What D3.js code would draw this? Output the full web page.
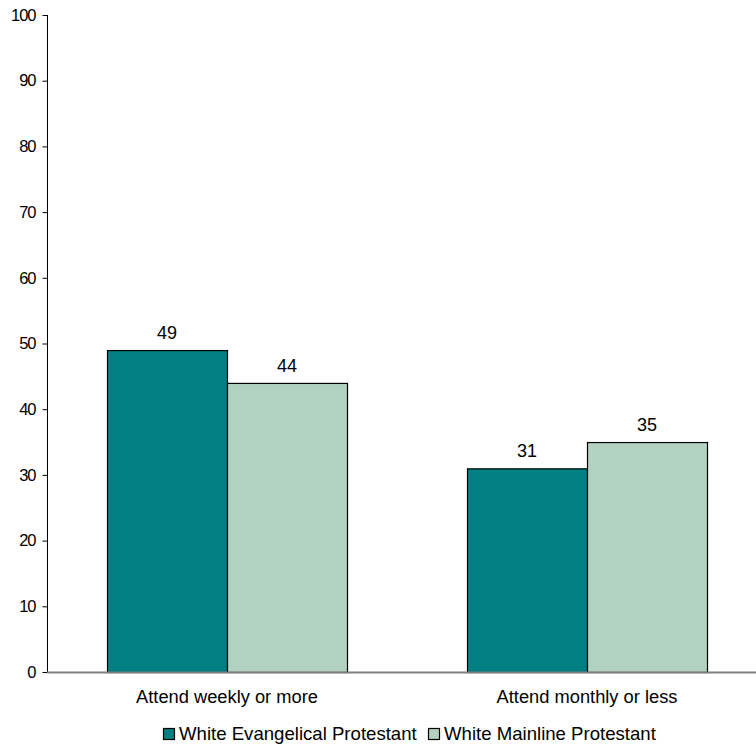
<!DOCTYPE html>
<html><head><meta charset="utf-8">
<script src="https://cdn.jsdelivr.net/npm/d3@7"></script>
<style>body{margin:0;background:#fff;} text{font-family:"Liberation Sans",Arial,sans-serif;fill:#000;}</style>
</head><body>
<svg id="c" width="756" height="746"></svg>
<script>
const categories = ["Attend weekly or more", "Attend monthly or less"];
const seriesNames = ["White Evangelical Protestant", "White Mainline Protestant"];
const evangelical = [49, 31];
const mainline = [44, 35];
const yTicks = [0,10,20,30,40,50,60,70,80,90,100];
const colors = ["#008080", "#b3d1c0"];

const svg = d3.select("#c");
const x0 = 47, x1 = 767, yTop = 15, yBot = 672;
const x = d3.scaleBand().domain(categories).range([x0, x1]).paddingInner(1/3).paddingOuter(1/6);
const xs = d3.scaleBand().domain(seriesNames).range([0, x.bandwidth()]);
const y = d3.scaleLinear().domain([0, 100]).range([yBot, yTop]);

const data = categories.map((c, i) => ({cat: c, vals: [evangelical[i], mainline[i]]}));

const g = svg.append("g");
data.forEach(d => {
  d.vals.forEach((v, j) => {
    const bx = x(d.cat) + xs(seriesNames[j]);
    g.append("rect").attr("x", bx + 0.5).attr("y", y(v) + 0.5)
      .attr("width", xs.bandwidth()).attr("height", y(0) - y(v))
      .attr("fill", colors[j]).attr("stroke", "#000").attr("stroke-width", 1.2);
    g.append("text").attr("x", bx + xs.bandwidth()/2).attr("y", y(v) - 11)
      .attr("text-anchor", "middle").attr("font-size", 18).text(v);
  });
});

// y axis
const yAxis = d3.axisLeft(y).tickValues(yTicks).tickSize(5).tickPadding(7);
const ya = svg.append("g").attr("transform", `translate(${x0 + 0.5},0)`).call(yAxis);
ya.select(".domain").attr("stroke", "#000").attr("d", `M0,${yTop}V${yBot}`);
ya.selectAll(".tick line").attr("stroke", "#000");
ya.selectAll(".tick text").attr("font-size", 16.5).attr("letter-spacing", "-1px")
  .attr("font-family", "Liberation Sans, Arial, sans-serif").attr("fill", "#000");

// x axis
const xAxis = d3.axisBottom(x).tickSize(0).tickPadding(18);
const xa = svg.append("g").attr("transform", `translate(0,${yBot + 0.5})`).call(xAxis);
xa.select(".domain").attr("stroke", "#808080").attr("stroke-width", 2).attr("d", `M${x0},0H${x1}`);
xa.selectAll(".tick text").attr("font-size", 18.3)
  .attr("font-family", "Liberation Sans, Arial, sans-serif").attr("fill", "#000");

// legend
const legendX = [163, 428];
const leg = svg.append("g");
seriesNames.forEach((s, j) => {
  leg.append("rect").attr("x", legendX[j] + 0.5).attr("y", 728.5).attr("width", 11).attr("height", 11)
    .attr("fill", colors[j]).attr("stroke", "#000").attr("stroke-width", 1.2);
  leg.append("text").attr("x", legendX[j] + 16).attr("y", 740).attr("font-size", 18.6).text(s);
});
</script>
</body></html>
